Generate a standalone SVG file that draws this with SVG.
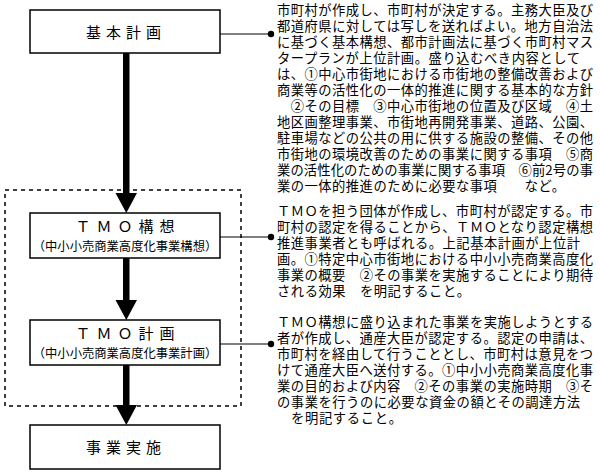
<svg xmlns="http://www.w3.org/2000/svg" width="600" height="474" viewBox="0 0 600 474">
<style>
.box{fill:#fff;stroke:#000;stroke-width:1.5}
.lbl{font-family:"Noto Sans CJK JP","Noto Sans",sans-serif;font-size:15px;text-anchor:middle;fill:#000}
.sub{font-family:"Noto Sans CJK JP","Noto Sans",sans-serif;font-size:12.3px;text-anchor:middle;fill:#000}
.t{font-family:"Noto Sans CJK JP","Noto Sans",sans-serif;font-size:13.3px;fill:#000}
.ln{stroke:#000;stroke-width:1.2}
.shaft{fill:#000}
</style>
<rect x="0" y="0" width="600" height="474" fill="#fff"/>
<rect x="5" y="190" width="236" height="216" fill="none" stroke="#000" stroke-width="1.5" stroke-dasharray="4,4"/>
<g id="connectors">
<path class="shaft" d="M123 53 H129.5 V193 H137 L126.3 213 L115.5 193 H123 Z"/>
<path class="shaft" d="M123 258 H129.5 V300 H137 L126.3 320 L115.5 300 H123 Z"/>
<path class="shaft" d="M123 365 H129.5 V405 H137 L126.3 425 L115.5 405 H123 Z"/>
<line class="ln" x1="220" y1="34" x2="271" y2="34"/>
<circle cx="271" cy="34" r="3.2"/>
<line class="ln" x1="220" y1="237" x2="271" y2="237"/>
<circle cx="271" cy="237" r="3.2"/>
<line class="ln" x1="220" y1="344" x2="271" y2="344"/>
<circle cx="271" cy="344" r="3.2"/>
</g>
<g id="kihon">
<rect class="box" x="30" y="10" width="190" height="43"/>
<text class="lbl" x="126" y="38" letter-spacing="5">基本計画</text>
</g>
<g id="tmo-koso">
<rect class="box" x="30" y="213" width="190" height="45"/>
<text class="lbl" x="128" y="232" letter-spacing="6">ＴＭＯ構想</text>
<text class="sub" x="125" y="251">（中小小売商業高度化事業構想）</text>
</g>
<g id="tmo-keikaku">
<rect class="box" x="30" y="320" width="190" height="45"/>
<text class="lbl" x="128" y="339" letter-spacing="6">ＴＭＯ計画</text>
<text class="sub" x="125" y="358">（中小小売商業高度化事業計画）</text>
</g>
<g id="jigyo">
<rect class="box" x="30" y="425" width="190" height="44"/>
<text class="lbl" x="126" y="453" letter-spacing="5">事業実施</text>
</g>
<g id="note1" class="t">
<text x="277" y="15" textLength="316" lengthAdjust="spacing">市町村が作成し、市町村が決定する。主務大臣及び</text>
<text x="277" y="31" textLength="316" lengthAdjust="spacing">都道府県に対しては写しを送ればよい。地方自治法</text>
<text x="277" y="47" textLength="316" lengthAdjust="spacing">に基づく基本構想、都市計画法に基づく市町村マス</text>
<text x="277" y="63" textLength="303" lengthAdjust="spacing">タープランが上位計画。盛り込むべき内容として</text>
<text x="277" y="79" textLength="316" lengthAdjust="spacing">は、①中心市街地における市街地の整備改善および</text>
<text x="277" y="95" textLength="316" lengthAdjust="spacing">商業等の活性化の一体的推進に関する基本的な方針</text>
<text x="277" y="111" textLength="316" lengthAdjust="spacing">　②その目標　③中心市街地の位置及び区域　④土</text>
<text x="277" y="127" textLength="316" lengthAdjust="spacing">地区画整理事業、市街地再開発事業、道路、公園、</text>
<text x="277" y="143" textLength="316" lengthAdjust="spacing">駐車場などの公共の用に供する施設の整備、その他</text>
<text x="277" y="159" textLength="316" lengthAdjust="spacing">市街地の環境改善のための事業に関する事項　⑤商</text>
<text x="277" y="175" textLength="316" lengthAdjust="spacing">業の活性化のための事業に関する事項　⑥前2号の事</text>
<text x="277" y="191" textLength="288" lengthAdjust="spacing">業の一体的推進のために必要な事項　　など。</text>
</g>
<g id="note2" class="t">
<text x="277" y="216" textLength="316" lengthAdjust="spacing">ＴＭＯを担う団体が作成し、市町村が認定する。市</text>
<text x="277" y="232" textLength="316" lengthAdjust="spacing">町村の認定を得ることから、ＴＭＯとなり認定構想</text>
<text x="277" y="248" textLength="303" lengthAdjust="spacing">推進事業者とも呼ばれる。上記基本計画が上位計</text>
<text x="277" y="264" textLength="316" lengthAdjust="spacing">画。①特定中心市街地における中小小売商業高度化</text>
<text x="277" y="280" textLength="316" lengthAdjust="spacing">事業の概要　②その事業を実施することにより期待</text>
<text x="277" y="296" textLength="193" lengthAdjust="spacing">される効果　を明記すること。</text>
</g>
<g id="note3" class="t">
<text x="277" y="327" textLength="316" lengthAdjust="spacing">ＴＭＯ構想に盛り込まれた事業を実施しようとする</text>
<text x="277" y="343" textLength="316" lengthAdjust="spacing">者が作成し、通産大臣が認定する。認定の申請は、</text>
<text x="277" y="359" textLength="316" lengthAdjust="spacing">市町村を経由して行うこととし、市町村は意見をつ</text>
<text x="277" y="375" textLength="316" lengthAdjust="spacing">けて通産大臣へ送付する。①中小小売商業高度化事</text>
<text x="277" y="391" textLength="316" lengthAdjust="spacing">業の目的および内容　②その事業の実施時期　③そ</text>
<text x="277" y="407" textLength="303" lengthAdjust="spacing">の事業を行うのに必要な資金の額とその調達方法</text>
<text x="277" y="423" textLength="125" lengthAdjust="spacing">　を明記すること。</text>
</g>
</svg>
